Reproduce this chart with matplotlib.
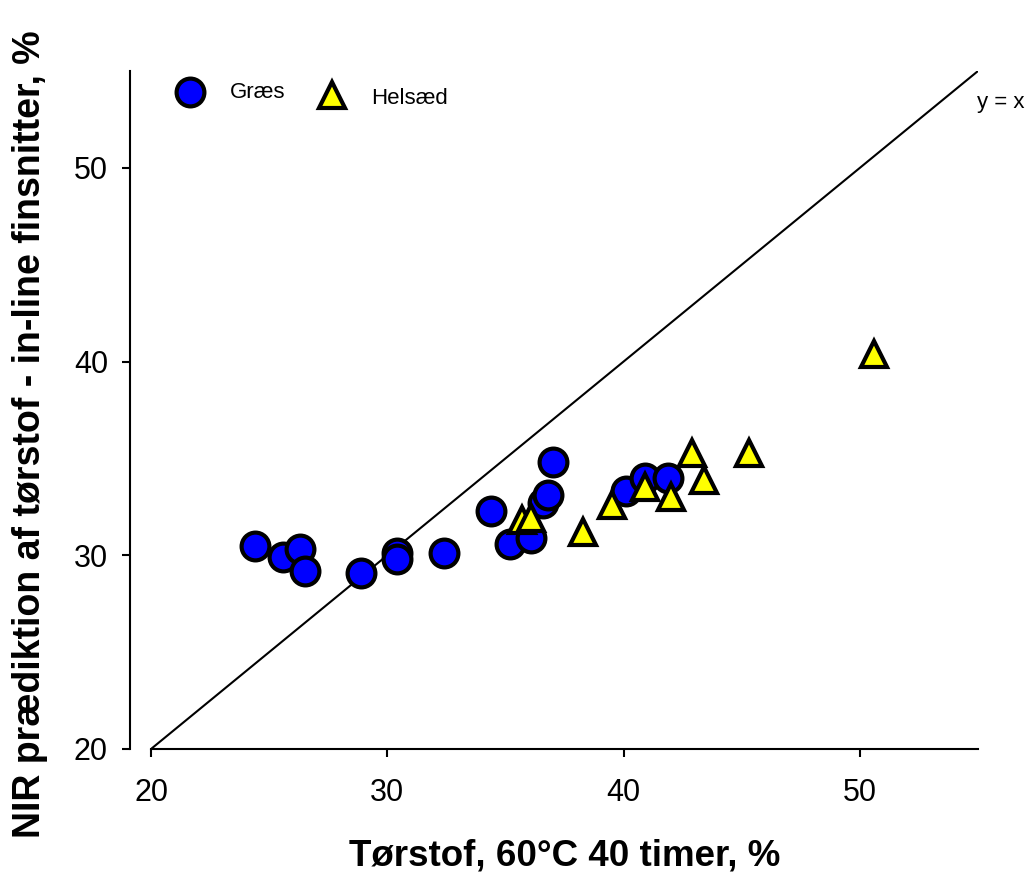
import matplotlib
matplotlib.use("Agg")
import matplotlib.pyplot as plt

plt.rcParams['font.family'] = ['Liberation Sans', 'DejaVu Sans']

# Data
graes_x = [24.4, 25.6, 26.3, 26.5, 28.9, 30.4, 30.4, 32.4, 34.4, 35.2, 36.1, 36.6, 36.8, 37.0, 40.1, 40.9, 41.9]
graes_y = [30.5, 29.9, 30.3, 29.2, 29.1, 30.1, 29.8, 30.1, 32.3, 30.6, 30.9, 32.7, 33.1, 34.8, 33.3, 34.0, 34.0]
helsaed_x = [35.7, 36.1, 38.3, 39.5, 40.9, 42.0, 42.9, 43.4, 45.3, 50.6]
helsaed_y = [31.8, 31.9, 31.2, 32.6, 33.5, 33.0, 35.3, 33.9, 35.3, 40.4]
ref_line = [20, 55]
x_ticks = [20, 30, 40, 50]
y_ticks = [20, 30, 40, 50]
series_labels = ['Græs', 'Helsæd']

fig = plt.figure(figsize=(10.3, 8.75), dpi=100)
ax = fig.add_axes([151/1030, 1-749/875, (978-151)/1030, (749-71)/875])

ax.plot(ref_line, ref_line, color='black', lw=1.5, zorder=1)
circ_style = dict(linestyle='none', marker='o', ms=20, mfc='#0000ff', mec='black', mew=3)
tri_style = dict(linestyle='none', marker='^', ms=19, mfc='#ffff00', mec='black', mew=3)
ax.plot(graes_x, graes_y, zorder=3, **circ_style)
ax.plot(helsaed_x, helsaed_y, zorder=4, **tri_style)

ax.set_xlim(20, 55)
ax.set_ylim(20, 55)
ax.set_xticks(x_ticks)
ax.set_yticks(y_ticks)

for s in ['top', 'right']:
    ax.spines[s].set_visible(False)
ax.spines['left'].set_position(('outward', 15))
ax.spines['left'].set_linewidth(1.5)
ax.spines['bottom'].set_linewidth(1.5)
ax.tick_params(axis='both', length=6, width=1.5, labelsize=22)
ax.tick_params(axis='x', pad=15)
ax.tick_params(axis='y', pad=10)

ax.set_xlabel('Tørstof, 60°C 40 timer, %', fontsize=26.5, fontweight='bold', labelpad=22)
ax.set_ylabel('NIR prædiktion af tørstof - in-line finsnitter, %', fontsize=27, fontweight='bold')
ax.yaxis.set_label_coords(-0.124, 0.465)

ax.text(54.95, 53.35, 'y = x', fontsize=16, ha='left', va='center')

# legend (manual placement in axes fraction)
ax.plot([0.047], [0.969], transform=ax.transAxes, clip_on=False, zorder=5, **circ_style)
ax.text(0.0956, 0.9676, series_labels[0], transform=ax.transAxes, fontsize=16, ha='left', va='center')
ax.plot([0.219], [0.965], transform=ax.transAxes, clip_on=False, zorder=5, **tri_style)
ax.text(0.266, 0.960, series_labels[1], transform=ax.transAxes, fontsize=16, ha='left', va='center')

fig.savefig('out.png', dpi=100)
